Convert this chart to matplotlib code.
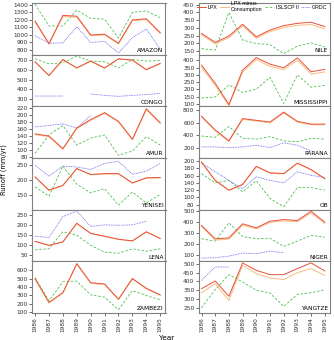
import numpy as np
import matplotlib
matplotlib.use("Agg")
import matplotlib.pyplot as plt

nan = np.nan
years = list(range(1986, 1996))

left_rivers = ["AMAZON", "CONGO", "AMUR", "YENISEI", "LENA", "ZAMBEZI"]
right_rivers = ["NILE", "MISSISSIPPI", "PARANA", "OB", "NIGER", "YANGTZE"]

# runoff per river: LPX, LPX minus consumption, ISLSCP II, GRDC
lpx = {
	"AMAZON": [1185, 885, 1260, 1250, 1000, 1010, 890, 1200, 1215, 1030],
	"CONGO": [683, 543, 706, 620, 690, 620, 713, 700, 603, 666],
	"AMUR": [146, 140, 104, 163, 187, 207, 182, 131, 218, 178],
	"YENISEI": [211, 167, 183, 239, 219, 222, 222, 191, 208, 209],
	"LENA": [119, 99, 116, 208, 158, 144, 129, 121, 166, 133],
	"ZAMBEZI": [502, 217, 334, 678, 452, 436, 256, 502, 385, 307],
	"NILE": [265, 207, 248, 324, 243, 287, 315, 330, 337, 309],
	"MISSISSIPPI": [366, 242, 96, 332, 418, 373, 348, 416, 321, 337],
	"PARANA": [703, 486, 313, 665, 638, 611, 768, 622, 578, 578],
	"OB": [198, 147, 120, 136, 186, 168, 166, 195, 177, 152],
	"NIGER": [369, 247, 256, 385, 348, 409, 424, 415, 500, 400],
	"YANGTZE": [359, 402, 316, 504, 462, 438, 438, 472, 504, 459],
}
lpx_minus = {
	"AMAZON": [1170, 875, 1245, 1235, 990, 1000, 880, 1190, 1205, 1020],
	"CONGO": [680, 540, 703, 617, 687, 617, 710, 697, 600, 663],
	"AMUR": [144, 138, 102, 161, 185, 205, 180, 129, 215, 176],
	"YENISEI": [210, 166, 182, 238, 218, 221, 221, 190, 207, 208],
	"LENA": [118, 98, 115, 206, 157, 143, 128, 120, 165, 132],
	"ZAMBEZI": [495, 212, 328, 670, 445, 430, 250, 495, 378, 300],
	"NILE": [256, 198, 238, 314, 234, 277, 302, 317, 322, 294],
	"MISSISSIPPI": [352, 228, 88, 318, 404, 358, 334, 400, 305, 320],
	"PARANA": [690, 473, 302, 652, 625, 598, 755, 610, 566, 566],
	"OB": [197, 146, 119, 135, 185, 167, 165, 194, 176, 151],
	"NIGER": [360, 235, 245, 372, 338, 398, 412, 405, 485, 388],
	"YANGTZE": [335, 387, 293, 490, 444, 419, 410, 449, 472, 434],
}
islscp = {
	"AMAZON": [1410, 1120, 1120, 1330, 1220, 1210, 960, 1300, 1320, 1230],
	"CONGO": [713, 662, 672, 740, 690, 683, 620, 705, 690, 695],
	"AMUR": [90, 143, 170, 114, 134, 143, 85, 97, 138, 114],
	"YENISEI": [178, 147, 247, 187, 158, 172, 117, 161, 124, 153],
	"LENA": [77, 82, 166, 149, 99, 65, 60, 82, 70, 82],
	"ZAMBEZI": [510, 237, 463, 471, 307, 280, 131, 358, 299, 248],
	"NILE": [167, 157, 400, 222, 200, 193, 135, 183, 204, 178],
	"MISSISSIPPI": [141, 148, 231, 179, 202, 283, 103, 299, 215, 227],
	"PARANA": [389, 368, 541, 351, 341, 378, 313, 297, 351, 341],
	"OB": [166, 140, 147, 115, 146, 97, 74, 127, 127, 120],
	"NIGER": [247, 226, 395, 268, 247, 253, 177, 226, 278, 262],
	"YANGTZE": [252, 353, 438, 397, 350, 335, 259, 327, 336, 353],
}
grdc = {
	"AMAZON": [990, 890, 895, 1110, 900, 915, 760, 965, 1080, 810],
	"CONGO": [333, 333, 333, nan, 353, 340, 330, 340, 348, 360],
	"AMUR": [166, 170, 175, 163, 199, nan, nan, nan, nan, nan],
	"YENISEI": [250, 213, 247, 244, 236, 256, 263, 220, 230, 256],
	"LENA": [144, 138, 241, 268, 192, 200, 198, 200, 218, nan],
	"ZAMBEZI": [nan] * 10,
	"NILE": [nan] * 10,
	"MISSISSIPPI": [nan] * 10,
	"PARANA": [216, 216, 205, 216, 243, 205, 281, 243, 151, nan],
	"OB": [195, 171, 147, 124, 157, 147, 140, 171, 161, 155],
	"NIGER": [70, 73, 88, 116, 110, 134, 119, nan, nan, nan],
	"YANGTZE": [406, 481, 481, nan, nan, nan, nan, nan, nan, nan],
}

ylims = {
	"AMAZON": (738, 1425), "CONGO": (228, 755), "AMUR": (77, 225),
	"YENISEI": (102, 274), "LENA": (20, 275), "ZAMBEZI": (92, 705),
	"NILE": (128, 461), "MISSISSIPPI": (84, 438), "PARANA": (40, 860),
	"OB": (66, 209), "NIGER": (40, 515), "YANGTZE": (222, 513),
}
yticks = {
	"AMAZON": range(800, 1401, 100), "CONGO": range(300, 701, 100),
	"AMUR": range(80, 221, 20), "YENISEI": [150, 200, 250],
	"LENA": range(50, 251, 50), "ZAMBEZI": range(100, 601, 100),
	"NILE": range(150, 451, 50), "MISSISSIPPI": range(100, 401, 50),
	"PARANA": range(200, 801, 200), "OB": range(80, 201, 20),
	"NIGER": range(100, 501, 100), "YANGTZE": range(250, 501, 50),
}

c_lpx = "#e8503a"
c_minus = "#f7bd80"
c_isl = "#4cc04c"
c_grdc = "#6060f0"
spine_c = "#808080"
fs = 4.2

fig = plt.figure(figsize=(3.34, 3.40), dpi=100)
top, bottom = 1 - 3 / 340, 1 - 313 / 340
h = (top - bottom) / 6

def draw_col(rivers, x0, x1):
	axes = []
	for i, r in enumerate(rivers):
		ax = fig.add_axes([x0, top - (i + 1) * h, x1 - x0, h])
		ax.plot(years, islscp[r], color=c_isl, lw=0.6, ls=(0, (3, 2)), label="ISLSCP II")
		ax.plot(years, grdc[r], color=c_grdc, lw=0.6, ls=(0, (1, 1)), label="GRDC")
		ax.plot(years, lpx_minus[r], color=c_minus, lw=0.7, label="LPX minus\nConsumption")
		ax.plot(years, lpx[r], color=c_lpx, lw=0.7, label="LPX")
		ax.set_xlim(1985.78, 1995.38)
		ax.set_ylim(*ylims[r])
		ax.set_yticks(list(yticks[r]))
		ax.set_xticks(years)
		ax.tick_params(labelsize=fs, length=2, width=0.5, pad=1, colors="#333333")
		for s in ax.spines.values():
			s.set_color(spine_c)
			s.set_linewidth(0.8)
		ax.text(0.985, 0.03, r, transform=ax.transAxes, ha="right", va="bottom", fontsize=fs)
		if i < len(rivers) - 1:
			ax.tick_params(axis="x", bottom=False, labelbottom=False)
		else:
			ax.set_xticklabels([str(y) for y in years], rotation=90)
		axes.append(ax)
	return axes

lax = draw_col(left_rivers, 32 / 334, 165.5 / 334)
rax = draw_col(right_rivers, 198.5 / 334, 330 / 334)

hs, ls = rax[0].get_legend_handles_labels()
order = [3, 2, 0, 1]
rax[0].legend([hs[k] for k in order], [ls[k] for k in order], ncol=4, loc="upper left",
	bbox_to_anchor=(-0.02, 1.06), frameon=False, fontsize=3.6, handlelength=1.7,
	handletextpad=0.3, columnspacing=0.5, borderpad=0.2, borderaxespad=0.1,
	prop={"family": "Liberation Sans", "size": 3.8})

fig.text(0.5, -0.004, "Year", ha="center", va="bottom", fontsize=5.2)
fig.text(0.002, 0.5, "Runoff (mm/yr)", rotation=90, ha="left", va="center", fontsize=4.8)

fig.savefig("out.png", dpi=100)
